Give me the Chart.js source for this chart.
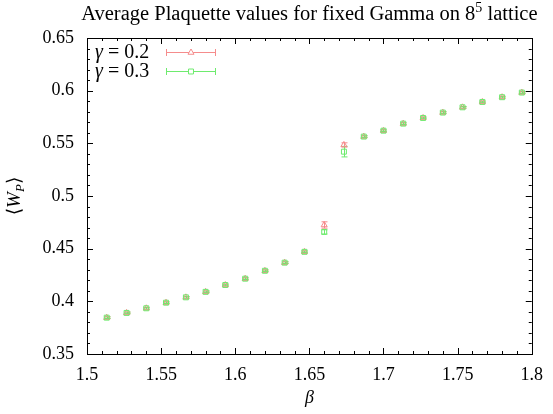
<!DOCTYPE html>
<html>
<head>
<meta charset="utf-8">
<script src="https://cdn.jsdelivr.net/npm/chart.js@4.4.0/dist/chart.umd.min.js"></script>
<style>
  html, body { margin: 0; padding: 0; background: #fff; }
  #wrap { position: relative; width: 553px; height: 414px; }
</style>
</head>
<body>
<div id="wrap"><canvas id="myChart"></canvas></div>
<script>
// data
const betas = [1.5133, 1.5267, 1.54, 1.5533, 1.5667, 1.58, 1.5933, 1.6067, 1.62, 1.6333, 1.6467,
               1.66, 1.6733, 1.6867, 1.70, 1.7133, 1.7267, 1.74, 1.7533, 1.7667, 1.78, 1.7933];
const gamma02 = [0.3845, 0.3890, 0.3934, 0.3987, 0.4038, 0.4090, 0.4155, 0.4215, 0.4290, 0.4367, 0.4470,
                 0.4725, 0.5485, 0.5564, 0.5620, 0.5687, 0.5741, 0.5792, 0.5842, 0.5893, 0.5938, 0.5982];
const gamma03 = [0.3845, 0.3890, 0.3934, 0.3987, 0.4038, 0.4090, 0.4155, 0.4215, 0.4290, 0.4367, 0.4470,
                 0.4659, 0.5421, 0.5564, 0.5620, 0.5687, 0.5741, 0.5792, 0.5842, 0.5893, 0.5938, 0.5982];
const err02 = [0.0008, 0.0008, 0.0008, 0.0008, 0.0008, 0.0008, 0.0008, 0.0008, 0.0008, 0.0008, 0.0008,
               0.0030, 0.0020, 0.0008, 0.0008, 0.0008, 0.0008, 0.0008, 0.0008, 0.0008, 0.0008, 0.0008];
const err03 = [0.0008, 0.0008, 0.0008, 0.0008, 0.0008, 0.0008, 0.0008, 0.0008, 0.0008, 0.0008, 0.0008,
               0.0020, 0.0050, 0.0008, 0.0008, 0.0008, 0.0008, 0.0008, 0.0008, 0.0008, 0.0008, 0.0008];
const seriesNames = ['0.2', '0.3'];
const xTickLabels = ['1.5', '1.55', '1.6', '1.65', '1.7', '1.75', '1.8'];
const yTickLabels = ['0.35', '0.4', '0.45', '0.5', '0.55', '0.6', '0.65'];

const red = 'rgb(245,140,140)',
      green = 'rgb(110,235,110)',
      serif = '"Liberation Serif", "DejaVu Serif", serif';

const toPts = (xs, ys, es) => xs.map((x, i) => ({x: x, y: ys[i], e: es[i]}));

// error bars, drawn under the markers
const errorBars = {
    id: 'errorBars',
    beforeDatasetsDraw(chart) {
        const c = chart.ctx, xs = chart.scales.x, ys = chart.scales.y;
        c.save();
        c.lineWidth = 1;
        chart.data.datasets.forEach(ds => {
            c.strokeStyle = ds.borderColor;
            ds.data.forEach(p => {
                const px = Math.round(xs.getPixelForValue(p.x)) + 0.5;
                const top = ys.getPixelForValue(p.y + p.e), bot = ys.getPixelForValue(p.y - p.e);
                c.beginPath();
                c.moveTo(px, top); c.lineTo(px, bot);
                c.moveTo(px - 3, top); c.lineTo(px + 3, top);
                c.moveTo(px - 3, bot); c.lineTo(px + 3, bot);
                c.stroke();
            });
        });
        c.restore();
    }
};

// gnuplot-like frame with inward ticks, titles and legend
const frame = {
    id: 'frame',
    afterDraw(chart) {
        const c = chart.ctx, a = chart.chartArea, xs = chart.scales.x, ys = chart.scales.y;
        c.save();
        c.strokeStyle = '#000';
        c.lineWidth = 1;
        c.beginPath();
        for (let k = 0; k <= 30; k++) {
            const v = 1.5 + k * 0.01, px = Math.round(xs.getPixelForValue(v)) + 0.5;
            const len = k % 5 === 0 ? 6 : 3;
            c.moveTo(px, a.bottom); c.lineTo(px, a.bottom - len);
            c.moveTo(px, a.top); c.lineTo(px, a.top + len);
        }
        for (let k = 0; k <= 30; k++) {
            const v = 0.35 + k * 0.01, py = Math.round(ys.getPixelForValue(v)) + 0.5;
            const len = k % 5 === 0 ? 6 : 3;
            c.moveTo(a.left, py); c.lineTo(a.left + len, py);
            c.moveTo(a.right, py); c.lineTo(a.right - len, py);
        }
        c.stroke();
        c.strokeRect(Math.round(a.left) + 0.5, Math.round(a.top) + 0.5,
                     Math.round(a.right - a.left), Math.round(a.bottom - a.top));

        // title
        c.fillStyle = '#000';
        c.textBaseline = 'alphabetic';
        const t1 = 'Average Plaquette values for fixed Gamma on 8', t2 = ' lattice';
        c.font = '20.5px ' + serif;
        const w1 = c.measureText(t1).width, w2 = c.measureText(t2).width;
        c.font = '14px ' + serif;
        const ws = c.measureText('5').width;
        let tx = (a.left + a.right) / 2 - (w1 + ws + w2) / 2;
        c.font = '20.5px ' + serif;
        c.textAlign = 'left';
        c.fillText(t1, tx, 20);
        c.font = '14px ' + serif;
        c.fillText('5', tx + w1, 12);
        c.font = '20.5px ' + serif;
        c.fillText(t2, tx + w1 + ws, 20);

        // x axis title
        c.font = 'italic 18px ' + serif;
        c.textAlign = 'center';
        c.fillText('β', (a.left + a.right) / 2, 403);

        // y axis title
        c.translate(20, (a.top + a.bottom) / 2);
        c.rotate(-Math.PI / 2);
        const p1 = '⟨', p3 = '⟩';
        c.font = 'italic 19px ' + serif;
        const wW = c.measureText('W').width;
        c.font = 'italic 13px ' + serif;
        const wP = c.measureText('P').width;
        c.font = '19px ' + serif;
        const wa = c.measureText(p1).width, wb = c.measureText(p3).width;
        let yx = -(wa + wW + wP + wb) / 2;
        c.textAlign = 'left';
        c.fillText(p1, yx, 0); yx += wa;
        c.font = 'italic 19px ' + serif;
        c.fillText('W', yx, 0); yx += wW;
        c.font = 'italic 13px ' + serif;
        c.fillText('P', yx, 4); yx += wP;
        c.font = '19px ' + serif;
        c.fillText(p3, yx, 0);
        c.setTransform(1, 0, 0, 1, 0, 0);

        // legend
        const rows = [[red, 'triangle'], [green, 'rect']];
        rows.forEach((r, i) => {
            const ly = 52 + i * 19;
            c.fillStyle = '#000';
            c.textAlign = 'left';
            c.font = 'italic 20px ' + serif;
            c.fillText('γ', 95, ly + 6);
            const gw = c.measureText('γ').width;
            c.font = '20px ' + serif;
            c.fillText(' = ' + seriesNames[i], 95 + gw, ly + 6);
            c.strokeStyle = r[0];
            c.beginPath();
            c.moveTo(166, ly + 0.5); c.lineTo(215, ly + 0.5);
            c.moveTo(166.5, ly - 3); c.lineTo(166.5, ly + 4);
            c.moveTo(215.5, ly - 3); c.lineTo(215.5, ly + 4);
            c.stroke();
            c.fillStyle = '#fff';
            Chart.helpers.drawPoint(c, {pointStyle: r[1], radius: 3.5, borderWidth: 1}, 191, ly + 0.5);
        });
        c.restore();
    }
};

const ctx = document.getElementById('myChart').getContext('2d');
const myChart = new Chart(ctx, {
    type: 'scatter',
    data: {
        datasets: [
            {
                label: 'γ = 0.2',
                data: toPts(betas, gamma02, err02),
                borderColor: red,
                backgroundColor: 'rgba(0,0,0,0)',
                pointStyle: 'triangle',
                pointRadius: 3.5,
                borderWidth: 1,
                order: 1
            },
            {
                label: 'γ = 0.3',
                data: toPts(betas, gamma03, err03),
                borderColor: green,
                backgroundColor: 'rgba(0,0,0,0)',
                pointStyle: 'rect',
                pointRadius: 3.5,
                borderWidth: 1,
                order: 0
            }
        ]
    },
    options: {
        responsive: true,
        maintainAspectRatio: false,
        animation: false,
        layout: { padding: { top: 38, right: 14, left: 0, bottom: 0 } },
        plugins: { legend: { display: false }, title: { display: false }, tooltip: { enabled: false } },
        scales: {
            x: {
                type: 'linear', min: 1.5, max: 1.8,
                grid: { display: false, drawTicks: false },
                border: { display: false },
                afterFit: s => { s.height = 60; },
                ticks: {
                    stepSize: 0.05, padding: 10, color: '#000', maxRotation: 0,
                    font: { family: serif, size: 18 },
                    callback: (v, i) => xTickLabels[i]
                }
            },
            y: {
                type: 'linear', min: 0.35, max: 0.65,
                grid: { display: false, drawTicks: false },
                border: { display: false },
                afterFit: s => { s.width = 87; },
                ticks: {
                    stepSize: 0.05, padding: 13, color: '#000',
                    font: { family: serif, size: 18 },
                    callback: (v, i) => yTickLabels[i]
                }
            }
        }
    },
    plugins: [errorBars, frame]
});
</script>
</body>
</html>
